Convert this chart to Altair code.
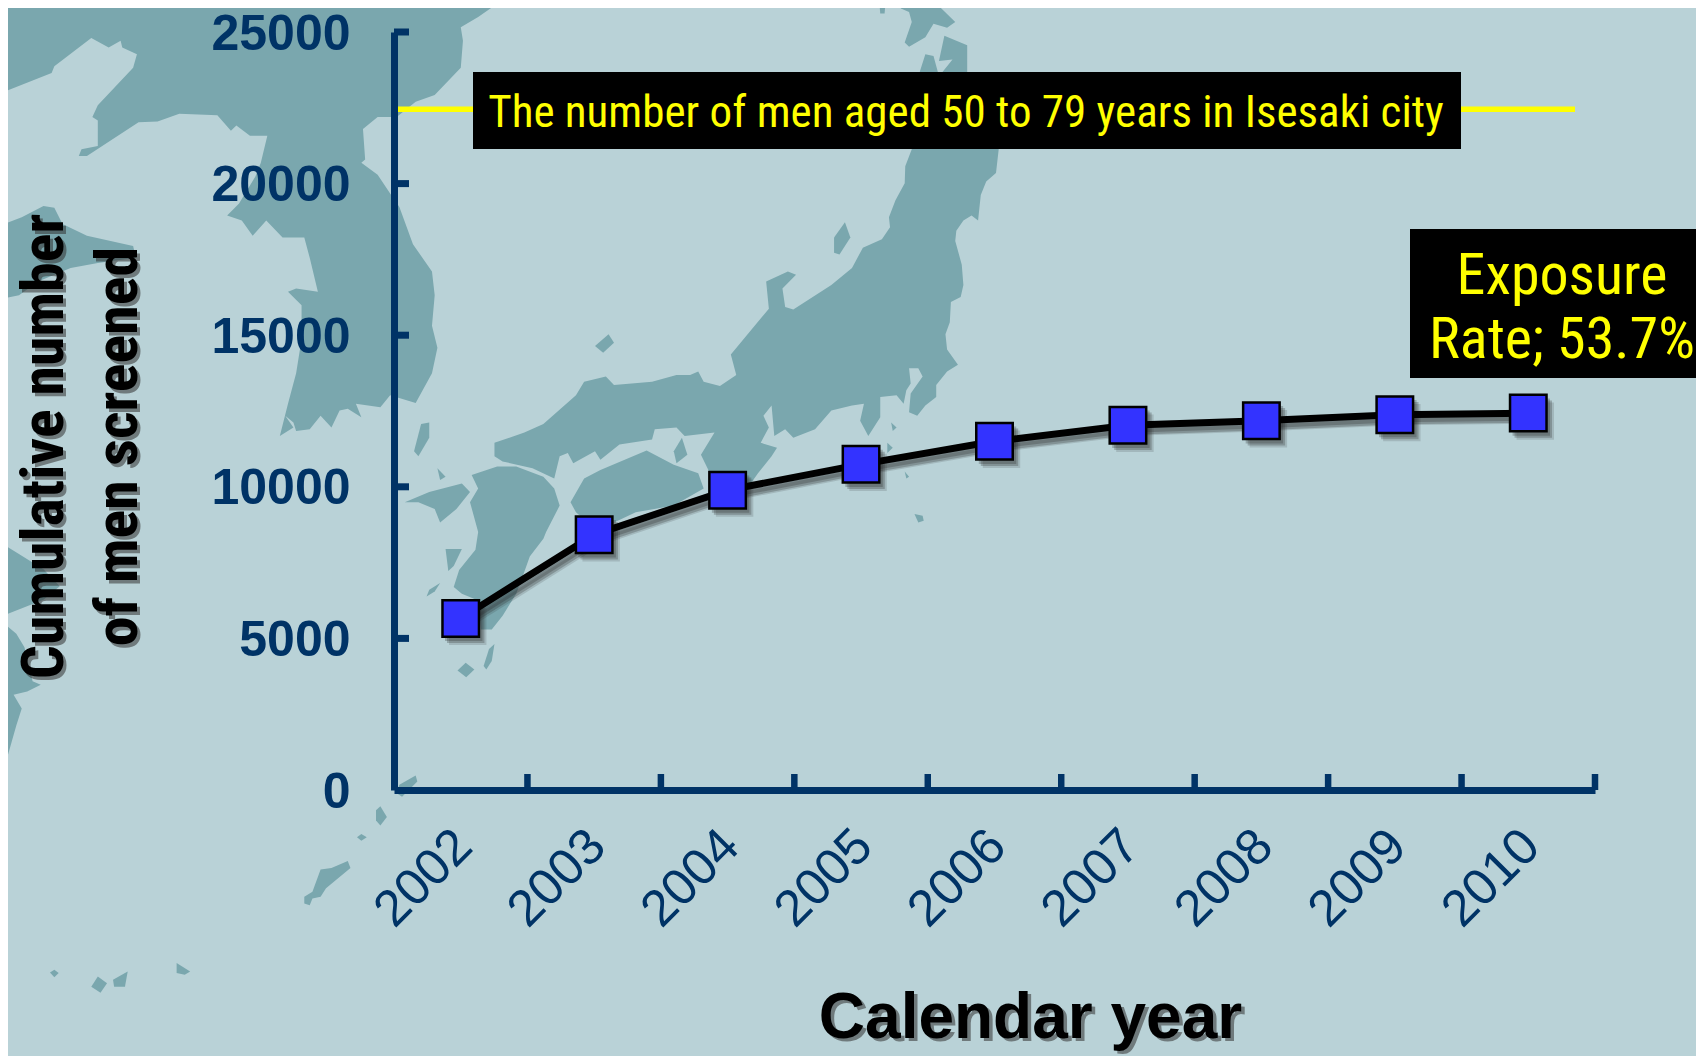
import altair as alt
import pandas as pd

# ---------- chart values ----------
YEARS = [2002, 2003, 2004, 2005, 2006, 2007, 2008, 2009, 2010]
CUMULATIVE = [5660, 8420, 9890, 10740, 11500, 12030, 12180, 12380, 12430]
POPULATION = 22450
Y_TICKS = [0, 5000, 10000, 15000, 20000, 25000]
X_BOUNDS = [2002.5, 2003.5, 2004.5, 2005.5, 2006.5, 2007.5, 2008.5, 2009.5, 2010.5]

NAVY = "#003366"
BG = "#b9d2d7"
LAND = "#7aa7ae"
NARROW = "Roboto Condensed"

# ---------- decorative background map, traced outlines (crop coordinates) ----------
A = (0, 0)
B = (852, 0)
C = (0, 532)
MAINLAND = [(925,0),(880,50),(848,80),(852,120),(848,200),(800,280),(765,300),(730,345),(695,345),(668,380),(672,470),(665,480),(695,515),(718,570),(735,610),(760,720),(795,800),(800,870),(795,960),(805,1025),(795,1100),(765,1188),(718,1165),(700,1200),(655,1190),(665,1230),(640,1205),(625,1210),(610,1260),(590,1225),(570,1265),(545,1270),(540,1245),(525,1225),(540,1260),(515,1285),(530,1190),(545,1100),(555,1000),(555,900),(530,860),(545,850),(585,860),(570,760),(560,700),(520,700),(490,650),(465,695),(445,650),(418,635),(440,600),(470,520),(480,480),(492,400),(460,400),(435,370),(425,385),(400,340),(330,335),(290,358),(255,360),(160,460),(145,460),(150,440),(180,430),(180,355),(170,345),(180,310),(245,200),(252,160),(225,140),(222,120),(200,140),(168,112),(100,195),(95,215),(0,275),(0,0)]
SHANDONG = [(0,665),(40,640),(80,607),(100,612),(115,660),(160,695),(245,725),(250,760),(180,775),(130,790),(70,830),(35,870),(5,880),(0,925)]
CHINA_S1 = [(0,30),(40,70),(80,110),(110,160),(80,200),(0,250)]
CHINA_S2 = [(0,260),(30,300),(45,340),(60,440),(75,450),(50,470),(25,480),(40,520),(30,570),(15,655),(0,640)]
HONSHU_W = [(910,1305),(965,1275),(1000,1250),(1060,1165),(1075,1125),(1115,1110),(1130,1135),(1200,1125),(1245,1105),(1270,1105),(1285,1095),(1295,1125),(1325,1138),(1355,1105),(1345,1045),(1415,910),(1410,830),(1450,800),(1465,810),(1440,850),(1445,905),(1460,912),(1530,840),(1568,790),
            (1588,730),(1623,705),(1638,670),(1636,640),(1648,590),(1665,540),(1666,490),(1678,440),(1693,210),(1703,160),(1718,165),(1726,212),(1780,212),(1838,440),(1833,510),(1815,535),(1805,575),(1800,650),(1788,635),(1773,650),(1760,680),(1758,710),(1770,780),(1773,840),(1768,875),(1750,890),(1748,950),(1740,985),(1743,1030),(1763,1075),(1743,1095),(1723,1135),(1723,1170),(1703,1195),(1688,1225),(1673,1215),(1676,1160),(1698,1110),(1690,1085),(1673,1085),(1676,1130),(1668,1150),(1663,1190),(1650,1165),(1620,1170),(1620,1230),(1598,1285),(1583,1240),(1590,1190),(1568,1195),
            (1530,1210),(1500,1265),(1460,1290),(1445,1265),(1425,1285),(1420,1195),(1405,1225),(1415,1260),(1400,1305),(1430,1320),(1420,1345),(1395,1395),(1375,1440),(1320,1425),(1305,1390),(1290,1340),(1315,1275),(1260,1285),(1245,1260),(1205,1265),(1200,1295),(1140,1310),(1105,1355),(1095,1330),(1055,1365),(1045,1335),(1030,1345),(1020,1410),(980,1380),(925,1360),(910,1345)]
SHIKOKU = [(1050,1480),(1075,1410),(1105,1385),(1190,1328),(1240,1370),(1285,1395),(1295,1440),(1240,1490),(1170,1510),(1130,1540),(1080,1538),(1060,1510)]
AWAJI = [(1255,1290),(1265,1340),(1245,1365),(1240,1330)]
KYUSHU = [(868,1400),(915,1375),(950,1375),(1000,1405),(1020,1440),(1030,1490),(1005,1568),(1000,1588),(975,1640),(965,1685),(950,1750),(925,1815),(905,1855),(885,1855),(880,1770),(850,1750),(835,1730),(845,1680),(875,1620),(880,1568),(865,1480),(880,1440)]
NAGASAKI = [(745,1480),(790,1450),(850,1425),(865,1450),(840,1500),(810,1540),(800,1500),(770,1480)]
TSUSHIMA = [(775,1250),(790,1245),(790,1290),(770,1345),(762,1330)]
IKI = [(805,1380),(820,1405),(810,1415)]
OKI = [(1120,985),(1130,1010),(1110,1040),(1095,1020)]
SADO = [(1555,655),(1565,700),(1545,750),(1535,745),(1535,700)]
ISLANDS_A = [TSUSHIMA, IKI, OKI, SADO, SHIKOKU, AWAJI, HONSHU_W, KYUSHU, NAGASAKI, MAINLAND, SHANDONG]
ISLANDS_B = [
    [(85,0),(130,15),(155,10),(190,65),(175,82),(150,70),(135,110),(105,138),(97,125),(110,65),(105,35),(90,25)],
    [(320,0),(352,0),(352,22)],
    [(50,0),(62,0),(60,40),(52,40)],
    [(170,105),(212,133),(212,215),(165,215),(185,175),(160,180)],
    [(72,1245),(82,1260),(75,1270)],
    [(65,1305),(75,1320),(65,1335)],
    [(97,1390),(105,1405),(100,1410)],
    [(115,1515),(130,1520),(132,1535),(122,1540)],
]
ISLANDS_C = [
    CHINA_S1, CHINA_S2,
    [(790,170),(810,150),(800,175),(785,190)],
    [(820,50),(850,50),(835,100),(825,115)],
    [(910,330),(905,380),(895,405),(890,395),(900,345)],
    [(857,385),(873,405),(858,428),(842,408)],
    [(765,718),(768,735),(740,780),(730,770),(735,745)],
    [(700,808),(712,840),(700,865),(692,850),(692,820)],
    [(665,890),(675,900),(665,910),(657,900)],
    [(640,970),(645,990),(600,1050),(590,1075),(575,1080),(570,1100),(560,1095),(560,1075),(575,1060),(590,995),(610,990)],
    [(325,1270),(350,1295),(340,1305),(325,1300)],
    [(235,1295),(230,1340),(210,1340),(208,1320)],
    [(180,1310),(197,1330),(185,1358),(168,1340)],
    [(100,1290),(108,1300),(100,1312),(92,1298)],
]


def feature(points, origin):
    ring = [[origin[0] + p[0] * 852 / 1568, origin[1] + p[1] * 532 / 1568] for p in points]
    ring.append(ring[0])
    return {"type": "Feature", "properties": {}, "geometry": {"type": "Polygon", "coordinates": [ring]}}


features = ([feature(p, A) for p in ISLANDS_A] + [feature(p, B) for p in ISLANDS_B]
            + [feature(p, C) for p in ISLANDS_C])

# ---------- plot-area placement on the canvas ----------
W, H = 1201, 758
PAD = {"left": 386, "top": 24, "right": 101, "bottom": 266}

x_scale = alt.Scale(domain=[2001.5, 2010.5], nice=False, zero=False)
y_scale = alt.Scale(domain=[0, 25000], nice=False)

df = pd.DataFrame({"year": YEARS, "n": CUMULATIVE})

map_layer = (
    alt.Chart(alt.Data(values=features))
    .mark_geoshape(fill=LAND, strokeWidth=0, clip=False)
    .project(type="identity", scale=1, translate=[-394, -32], clipExtent=[[-600, -100], [1500, 1100]])
)

TITLE_BASE = 1037

x_axis = alt.Axis(
    values=YEARS, format="d", title="Calendar year", grid=False, ticks=False, zindex=1,
    domainColor=NAVY, domainWidth=7, labelColor=NAVY, labelFont="Liberation Sans",
    labelFontSize=51, labelAngle=315, labelAlign="right", labelBaseline="middle",
    labelPadding=48, labelOffset=3, labelOverlap=False, labelBound=False, labelFlush=False,
    titleFont="Liberation Sans", titleFontSize=64, titleFontWeight="bold", titleColor="black",
    titleX=636, titleY=TITLE_BASE - 790, titleAlign="center", titleBaseline="alphabetic",
)
y_axis = alt.Axis(
    values=Y_TICKS, format="d", title=["Cumulative number", "of men screened"], grid=False,
    ticks=False, zindex=1, domainColor=NAVY, domainWidth=7, labelColor=NAVY,
    labelFont="Liberation Sans", labelFontSize=50, labelPadding=44, labelOffset=2, labelOverlap=False,
    labelBound=False, labelFlush=False, labelFontWeight="bold",
    titleFont=NARROW, titleFontSize=60, titleFontWeight="bold", titleColor="black",
    titleAngle=270, titleX=-332, titleY=414, titleAlign="center", titleBaseline="alphabetic",
    titleLineHeight=74,
)


def X(field="year"):
    return alt.X(f"{field}:Q", scale=x_scale, axis=x_axis)


def Y(field="n"):
    return alt.Y(f"{field}:Q", scale=y_scale, axis=y_axis)


line = alt.Chart(df).mark_line(color="black", strokeWidth=7).encode(x=X(), y=Y())


def shadow_line(dx, dy, op):
    return alt.Chart(df).mark_line(color="#222222", strokeWidth=7, opacity=op, xOffset=dx, yOffset=dy).encode(x=X(), y=Y())


def shadow_square(dx, dy, op):
    return alt.Chart(df).mark_square(size=1400, color="#222222", opacity=op, xOffset=dx, yOffset=dy).encode(x=X(), y=Y())


squares = alt.Chart(df).mark_square(size=1332, fill="#3333ff", stroke="black", strokeWidth=2.5, opacity=1).encode(x=X(), y=Y())

x_ticks = alt.Chart(pd.DataFrame({"b": X_BOUNDS})).mark_rule(color=NAVY, strokeWidth=6.5).encode(
    x=X("b"), y=alt.value(742), y2=alt.value(758))
y_ticks = alt.Chart(pd.DataFrame({"v": Y_TICKS[1:]})).mark_rule(color=NAVY, strokeWidth=7).encode(
    y=Y("v"), x=alt.value(0), x2=alt.value(15))

pop_rule = alt.Chart(pd.DataFrame({"v": [POPULATION]})).mark_rule(color="#ffff00", strokeWidth=5.5).encode(
    y=Y("v"), x=alt.value(2), x2=alt.value(1181))


def box(x0, x1, y0, y1):
    return alt.Chart(pd.DataFrame({"a": [0]})).mark_rect(color="black").encode(
        x=alt.value(x0 - 394), x2=alt.value(x1 - 394), y=alt.value(y0 - 32), y2=alt.value(y1 - 32))


def label(text, px, py, size, font=NARROW, color="#ffff00", weight="normal", angle=0,
          align="center", opacity=1.0):
    return alt.Chart(pd.DataFrame({"a": [0]})).mark_text(
        text=text, font=font, fontSize=size, fontWeight=weight, color=color, angle=angle,
        align=align, baseline="alphabetic", opacity=opacity,
    ).encode(x=alt.value(px - 394), y=alt.value(py - 32))


def shadow(text, px, py, size, font, angle=0):
    return label(text, px + 4, py + 4, size, font=font, color="#333333", weight="bold",
                 angle=angle, opacity=0.55)


shadow_layers = []
for dx, dy, op in [(3, 4, 0.25), (4, 6, 0.25), (6, 7, 0.15)]:
    shadow_layers.append(shadow_line(dx, dy, op))
for dx, dy, op in [(3, 4, 0.25), (5, 6, 0.25), (7, 8, 0.15)]:
    shadow_layers.append(shadow_square(dx, dy, op))

layers = (
    [map_layer, x_ticks, y_ticks, pop_rule, box(473, 1461, 72, 149), box(1410, 1704, 229, 378),
     shadow("Cumulative number", 62, 446, 60, NARROW, 270),
     shadow("of men screened", 136, 446, 60, NARROW, 270),
     shadow("Calendar year", 1030, TITLE_BASE, 64, "Liberation Sans")]
    + shadow_layers
    + [line, squares,
       label("The number of men aged 50 to 79 years in Isesaki city", 966, 127, 45),
       label("Exposure", 1562, 294, 58),
       label("Rate; 53.7%", 1562, 358, 58)]
)

chart = alt.layer(*layers).properties(
    width=W, height=H, padding=PAD, autosize=alt.AutoSizeParams(type="none"), background=BG,
).configure_view(stroke=None)

chart.save("out.html", embed_options={"renderer": "svg", "actions": False})
